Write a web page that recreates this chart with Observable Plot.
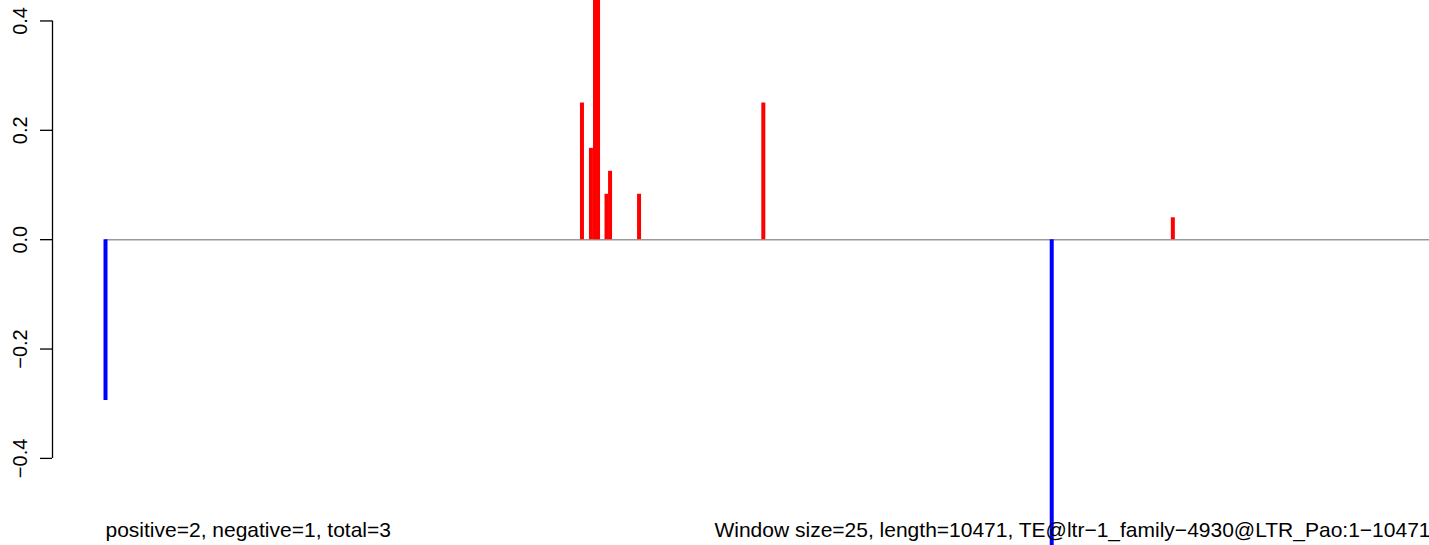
<!DOCTYPE html>
<html>
<head>
<meta charset="utf-8">
<script src="https://cdn.jsdelivr.net/npm/d3@7"></script>
<script src="https://cdn.jsdelivr.net/npm/@observablehq/plot@0.6"></script>
<style>
  html, body { margin: 0; padding: 0; background: #fff; }
  svg { display: block; }
</style>
</head>
<body>
<div id="chart"></div>
<script>
// Data
const seqLength = 10471;
const windowSize = 25;
const positivePos = [3766, 3837, 3869, 3893, 3960, 3988, 4217, 5199, 8435];
const positiveVal = [0.25, 0.167, 0.5, 0.5, 0.083, 0.125, 0.083, 0.25, 0.04];
const negativePos = [1, 7478];
const negativeVal = [-0.294, -0.6];
const yTicks = [-0.4, -0.2, 0.0, 0.2, 0.4];
const leftLabel = "positive=2, negative=1, total=3";
const rightLabel = "Window size=25, length=10471, TE@ltr\u22121_family\u22124930@LTR_Pao:1\u221210471";

const pos = positivePos.map((p, i) => ({pos: p, val: positiveVal[i]}));
const neg = negativePos.map((p, i) => ({pos: p, val: negativeVal[i]}));

// R-style 4% axis extension
const ext = 0.04 * (seqLength - 1);
const xDomain = [1 - ext, seqLength + ext];

const chart = Plot.plot({
  width: 1429,
  height: 545,
  marginTop: 0,
  marginBottom: 0,
  marginLeft: 52,
  marginRight: 0,
  style: {fontFamily: "Liberation Sans, Arial, Helvetica, sans-serif", background: "#fff"},
  x: {domain: xDomain, range: [52, 52 + 1431], axis: null},
  y: {domain: [-0.5593, 0.4374], range: [545, 0], label: null},
  marks: [
    Plot.axisY({
      ticks: yTicks,
      tickFormat: d3.format(".1f"),
      tickSize: 12,
      tickPadding: 14,
      tickRotate: -90,
      fontSize: 20,
      label: null,
      stroke: "#000",
      fill: "#000",
      strokeWidth: 1.3
    }),
    Plot.ruleX([xDomain[0]], {y1: yTicks[0], y2: yTicks[yTicks.length - 1], stroke: "#000", strokeWidth: 1.3}),
    Plot.ruleY([0], {x1: 1, x2: seqLength, stroke: "#999", strokeWidth: 1.5, clip: true}),
    Plot.ruleX(pos, {x: "pos", y1: 0, y2: "val", stroke: "#ff0000", strokeWidth: 4, clip: true}),
    Plot.ruleX(neg, {x: "pos", y1: 0, y2: "val", stroke: "#0000ff", strokeWidth: 4, clip: true}),
    Plot.text([leftLabel], {x: 1, y: -0.5306, text: d => d, textAnchor: "start", fontSize: 21, fill: "#000"}),
    Plot.text([rightLabel], {x: seqLength, y: -0.5306, text: d => d, textAnchor: "end", fontSize: 21, fill: "#000"})
  ]
});
document.getElementById("chart").appendChild(chart);
</script>
</body>
</html>
